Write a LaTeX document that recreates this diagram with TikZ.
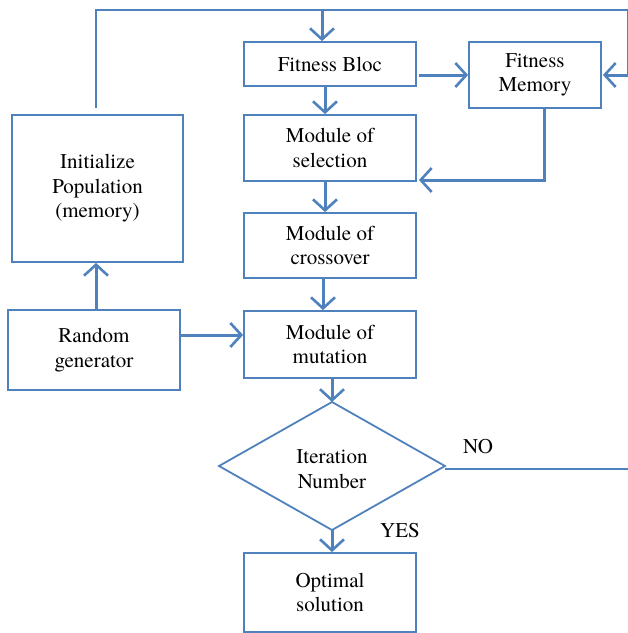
\documentclass[tikz,border=0pt]{standalone}
\usepackage{fontspec}
\newfontfamily\diagfont{texgyretermes-regular.otf}
\usetikzlibrary{arrows.meta,calc}
\definecolor{lineblue}{RGB}{79,129,189}
\tikzset{
  box/.style={draw=lineblue, line width=1.8pt, rectangle, inner sep=0pt, align=center,
    font=\diagfont\fontsize{21}{24.5}\selectfont},
  arr/.style={draw=lineblue, line width=3pt,
    -{Straight Barb[length=11pt,width=24pt,line width=2.6pt]}},
  conn/.style={draw=lineblue, line width=2.3pt},
  lbl/.style={font=\diagfont\fontsize{21}{24.5}\selectfont, inner sep=0pt}
}
\begin{document}
\begin{tikzpicture}[x=1pt,y=-1pt]
\useasboundingbox (0,0) rectangle (628,633);
% boxes
\node[box, minimum width=172pt, minimum height=44pt] (bloc) at (330,64) {Fitness Bloc};
\node[box, minimum width=132pt, minimum height=66pt] (mem) at (535,75) {Fitness\\Memory};
\node[box, minimum width=172pt, minimum height=66pt] (sel) at (330,148) {Module of\\selection};
\node[box, minimum width=172pt, minimum height=65pt] (cross) at (330,245.5) {Module of\\crossover};
\node[box, minimum width=172pt, minimum height=67pt] (mut) at (330,344.5) {Module of\\mutation};
\node[box, minimum width=172pt, minimum height=79pt] (opt) at (330,592.5) {Optimal\\solution};
\node[box, minimum width=171pt, minimum height=147pt] (init) at (97.5,188.5) {Initialize\\Population\\(memory)};
\node[box, minimum width=172pt, minimum height=80pt] (rand) at (94,350) {Random\\generator};
% diamond
\coordinate (dtop) at (332,402);
\coordinate (dbot) at (332,530);
\coordinate (dleft) at (219,466);
\coordinate (dright) at (445,466);
\draw[draw=lineblue, line width=1.8pt, line join=miter] (dtop) -- (dright) -- (dbot) -- (dleft) -- cycle;
\node[lbl, align=center] (iter) at (332,469) {Iteration\\Number};
% loop coordinates
\coordinate (loopstart) at (96,108);
\coordinate (topleft) at (96,10);
\coordinate (topright) at (628,10);
\coordinate (topbranch) at (322,10);
\coordinate (noend) at (628,469);
% connectors
\draw[conn] (loopstart) -- (topleft) -- (topright) -- (topright |- mem.east);
\draw[arr] (topright |- mem.east) -- ([xshift=1pt]mem.east);
\draw[arr] (topbranch) -- (topbranch |- bloc.north);
\draw[arr] ([xshift=2pt]bloc.east |- mem.west) -- (mem.west);
\draw[arr] ([xshift=-5pt]bloc.south) -- ([xshift=-5pt]sel.north);
\draw[arr] ([xshift=9pt]mem.south) |- ([xshift=2pt,yshift=-32pt]sel.east);
\draw[arr] ([xshift=-5pt]sel.south) -- ([xshift=-5pt]cross.north);
\draw[arr] ([xshift=-7pt]cross.south) -- ([xshift=-7pt]mut.north);
\draw[arr] (dtop |- mut.south) -- (dtop);
\draw[arr] (dbot) -- (dbot |- opt.north);
\draw[arr] ([xshift=2pt]rand.north) -- ([xshift=2pt]rand.north |- init.south);
\draw[arr] ([yshift=15pt]rand.east) -- ([yshift=15pt]rand.east -| mut.west);
\draw[conn] ([yshift=-3pt]dright) -- (noend);
% labels
\node[lbl] (no) at (478,447) {NO};
\node[lbl] (yes) at (400,531) {YES};
\end{tikzpicture}
\end{document}
